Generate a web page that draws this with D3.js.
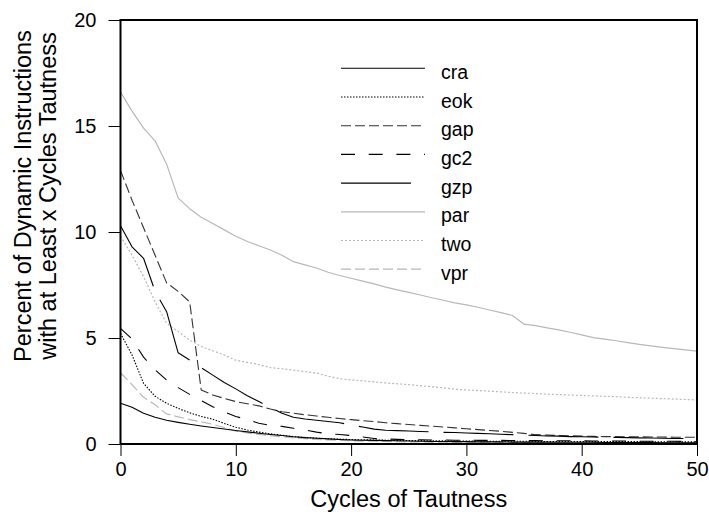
<!DOCTYPE html>
<html>
<head>
<meta charset="utf-8">
<script src="https://cdn.jsdelivr.net/npm/d3@7"></script>
<style>
  html, body { margin: 0; padding: 0; background: #fff; }
  svg { display: block; }
  text { font-family: "Liberation Sans", Arial, Helvetica, sans-serif; fill: #000; }
</style>
</head>
<body>
<svg id="chart" width="709" height="519"></svg>
<script>
// ---- data ----
const cycles = d3.range(0, 51);
const seriesNames = ["cra", "eok", "gap", "gc2", "gzp", "par", "two", "vpr"];
const xTicks = [0, 10, 20, 30, 40, 50];
const yTicks = [0, 5, 10, 15, 20];

const cra = [1.92,1.73,1.45,1.26,1.12,1.02,0.93,0.85,0.78,0.71,0.64,
  0.57,0.51,0.45,0.40,0.34,0.30,0.27,0.24,0.21,0.19,
  0.18,0.17,0.16,0.15,0.14,0.13,0.12,0.12,0.11,0.11,
  0.10,0.10,0.10,0.09,0.09,0.09,0.09,0.08,0.08,0.08,
  0.08,0.07,0.07,0.07,0.07,0.07,0.06,0.06,0.06,0.06];
const eok = [5.22,4.20,2.86,2.25,1.92,1.68,1.47,1.30,1.17,0.97,0.79,
  0.66,0.56,0.48,0.41,0.35,0.31,0.28,0.25,0.23,0.21,
  0.20,0.19,0.18,0.17,0.16,0.16,0.15,0.15,0.14,0.14,
  0.14,0.13,0.13,0.13,0.13,0.12,0.12,0.12,0.12,0.12,
  0.11,0.11,0.11,0.11,0.11,0.10,0.10,0.10,0.10,0.10];
const gap = [12.9,11.5,10.2,8.9,7.6,7.2,6.7,2.55,2.31,2.15,2.00,
  1.90,1.80,1.65,1.52,1.45,1.38,1.32,1.26,1.20,1.15,
  1.10,1.06,1.00,0.96,0.92,0.88,0.84,0.80,0.76,0.72,
  0.68,0.64,0.60,0.55,0.50,0.44,0.42,0.40,0.39,0.37,
  0.36,0.35,0.35,0.34,0.34,0.33,0.33,0.32,0.32,0.32];
const gc2 = [5.45,4.95,4.10,3.50,3.02,2.66,2.34,2.05,1.76,1.52,1.30,
  1.15,0.98,0.88,0.83,0.74,0.66,0.56,0.48,0.45,0.40,
  0.33,0.26,0.24,0.22,0.21,0.20,0.19,0.19,0.18,0.18,
  0.17,0.17,0.17,0.16,0.16,0.16,0.15,0.15,0.15,0.15,
  0.14,0.14,0.14,0.14,0.13,0.13,0.13,0.13,0.12,0.12];
const gzp = [10.3,9.3,8.76,7.2,6.24,4.3,3.96,3.6,3.25,2.9,2.6,
  2.28,2.0,1.72,1.45,1.26,1.18,1.12,1.06,1.0,0.9,
  0.8,0.7,0.65,0.63,0.61,0.59,0.57,0.55,0.54,0.52,
  0.50,0.48,0.46,0.44,0.42,0.40,0.38,0.37,0.35,0.34,
  0.33,0.32,0.31,0.30,0.29,0.28,0.27,0.26,0.26,0.25];
const par = [16.6,15.7,14.9,14.3,13.2,11.6,11.1,10.7,10.4,10.1,9.8,
  9.55,9.35,9.15,8.9,8.6,8.45,8.3,8.1,7.95,7.82,
  7.68,7.55,7.4,7.27,7.15,7.03,6.9,6.78,6.66,6.56,
  6.45,6.32,6.2,6.06,5.65,5.58,5.48,5.38,5.27,5.15,
  5.02,4.95,4.87,4.78,4.7,4.63,4.56,4.5,4.44,4.38];
const two = [9.8,8.9,7.9,6.7,5.7,5.3,4.9,4.6,4.4,4.2,3.95,
  3.85,3.75,3.6,3.55,3.48,3.42,3.35,3.2,3.08,3.02,
  2.98,2.93,2.88,2.84,2.8,2.75,2.7,2.65,2.58,2.55,
  2.52,2.49,2.46,2.43,2.4,2.38,2.35,2.33,2.31,2.29,
  2.27,2.25,2.23,2.2,2.18,2.16,2.14,2.12,2.1,2.08];
const vpr = [3.36,2.80,2.20,1.85,1.42,1.28,1.15,1.05,0.93,0.78,0.60,
  0.52,0.45,0.39,0.34,0.29,0.25,0.22,0.19,0.17,0.15,
  0.14,0.13,0.12,0.11,0.10,0.10,0.09,0.09,0.08,0.08,
  0.08,0.07,0.07,0.07,0.07,0.06,0.06,0.06,0.06,0.06,
  0.05,0.05,0.05,0.05,0.05,0.05,0.05,0.04,0.04,0.04];

const seriesValues = { cra, eok, gap, gc2, gzp, par, two, vpr };

// ---- styles ----
const styles = {
  cra: { color: "#000", dash: null, width: 1.1 },
  eok: { color: "#000", dash: "1.5,1.5", width: 1.1 },
  gap: { color: "#333", dash: "10,4", width: 1.1 },
  gc2: { color: "#000", dash: "14,13.7", width: 1.1 },
  gzp: { color: "#000", dash: "70,15", width: 1.1 },
  par: { color: "#b8b8b8", dash: null, width: 1.2 },
  two: { color: "#b8b8b8", dash: "2,2", width: 1.2 },
  vpr: { color: "#b8b8b8", dash: "10,4", width: 1.2 }
};

// ---- layout ----
const margin = { left: 120.5, right: 697, top: 20, bottom: 444 };
const svg = d3.select("#chart");

const x = d3.scaleLinear().domain([0, 50]).range([margin.left, margin.right]);
const y = d3.scaleLinear().domain([0, 20]).range([margin.bottom, margin.top]);

// axes
const xAxis = d3.axisBottom(x).tickValues(xTicks).tickSize(12).tickSizeOuter(0).tickPadding(6);
const yAxis = d3.axisLeft(y).tickValues(yTicks).tickSize(12).tickSizeOuter(0).tickPadding(12);

const gx = svg.append("g").attr("transform", `translate(0,${margin.bottom})`).call(xAxis);
const gy = svg.append("g").attr("transform", `translate(${margin.left},0)`).call(yAxis);
[gx, gy].forEach(g => {
  g.select(".domain").remove();
  g.selectAll(".tick line").attr("stroke", "#000").attr("stroke-width", 1);
  g.selectAll(".tick text").attr("font-size", 20).attr("font-family", "Liberation Sans, Arial, sans-serif").attr("fill", "#000");
});

// lines
const line = d3.line().x((d, i) => x(cycles[i])).y(d => y(d));
const drawOrder = ["par", "two", "vpr", "cra", "eok", "gap", "gc2", "gzp"];
svg.append("g").selectAll("path")
  .data(drawOrder)
  .join("path")
  .attr("d", k => line(seriesValues[k]))
  .attr("fill", "none")
  .attr("stroke", k => styles[k].color)
  .attr("stroke-width", k => styles[k].width)
  .attr("stroke-dasharray", k => styles[k].dash)
  .attr("stroke-linejoin", "round");

// frame
svg.append("rect")
  .attr("x", margin.left).attr("y", margin.top)
  .attr("width", margin.right - margin.left)
  .attr("height", margin.bottom - margin.top)
  .attr("fill", "none").attr("stroke", "#000").attr("stroke-width", 2);

// legend
const legend = svg.append("g");
const legX0 = 341, legX1 = 425, legY0 = 68.3, legStep = 28.7;
seriesNames.forEach((k, i) => {
  const yy = legY0 + i * legStep;
  legend.append("line")
    .attr("x1", legX0).attr("x2", legX1).attr("y1", yy).attr("y2", yy)
    .attr("stroke", styles[k].color)
    .attr("stroke-width", styles[k].width)
    .attr("stroke-dasharray", styles[k].dash);
  legend.append("text")
    .attr("x", 441).attr("y", yy + 10.5)
    .attr("font-size", 19.5)
    .text(k);
});

// axis titles
svg.append("text")
  .attr("x", (margin.left + margin.right) / 2).attr("y", 507)
  .attr("text-anchor", "middle").attr("font-size", 23.5)
  .text("Cycles of Tautness");

const yt = svg.append("g").attr("transform", "translate(0,196) rotate(-90)");
yt.append("text").attr("x", 0).attr("y", 31).attr("text-anchor", "middle").attr("font-size", 23.5)
  .text("Percent of Dynamic Instructions");
yt.append("text").attr("x", 0).attr("y", 56).attr("text-anchor", "middle").attr("font-size", 23.5)
  .text("with at Least x Cycles Tautness");
</script>
</body>
</html>
